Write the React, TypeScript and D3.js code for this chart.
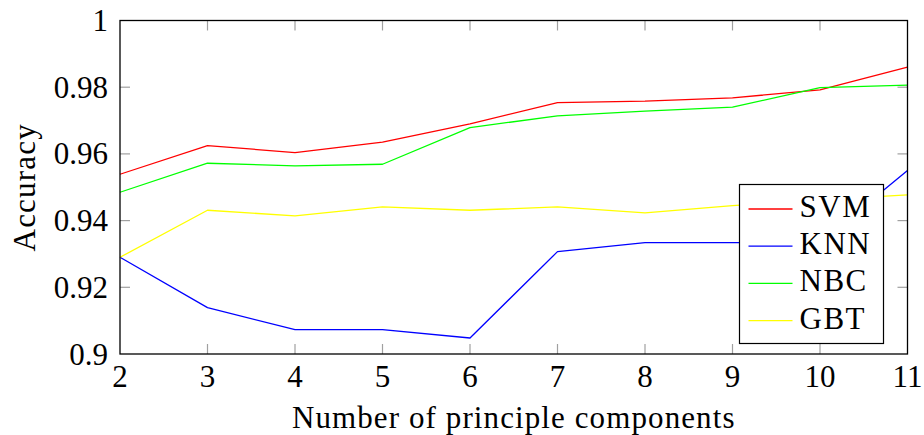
import React, { useEffect, useRef } from "react";
import * as d3 from "d3";

const components = [2, 3, 4, 5, 6, 7, 8, 9, 10, 11];
const svmAcc = [0.9539, 0.9625, 0.9604, 0.9635, 0.969, 0.9754, 0.9758, 0.9768, 0.9792, 0.986];
const knnAcc = [0.929, 0.9139, 0.9073, 0.9073, 0.9048, 0.9307, 0.9334, 0.9334, 0.9334, 0.955];
const nbcAcc = [0.9485, 0.9572, 0.9564, 0.9569, 0.9679, 0.9714, 0.9728, 0.974, 0.9799, 0.9806];
const gbtAcc = [0.929, 0.9431, 0.9414, 0.9441, 0.9431, 0.9441, 0.9423, 0.9445, 0.9462, 0.9477];
const yTicks = [0.9, 0.92, 0.94, 0.96, 0.98, 1];
const seriesNames = ["SVM", "KNN", "NBC", "GBT"];
const seriesColors = ["#ff0000", "#0000ff", "#00ff00", "#ffff00"];

const App = () => {
    const svgRef = useRef<SVGSVGElement>(null);

    useEffect(() => {
        const svg = d3.select(svgRef.current);
        svg.selectAll("*").remove();

        const width = 924;
        const height = 435;
        const margin = { top: 20.5, right: 16.5, bottom: 81, left: 120 };
        const innerW = width - margin.left - margin.right;
        const innerH = height - margin.top - margin.bottom;
        const font = "'Liberation Serif', 'DejaVu Serif', serif";
        const fontSize = 31;

        svg.attr("width", width).attr("height", height);

        const g = svg.append("g").attr("transform", `translate(${margin.left}, ${margin.top})`);

        const xScale = d3.scaleLinear().domain([2, 11]).range([0, innerW]);
        const yScale = d3.scaleLinear().domain([0.9, 1]).range([innerH, 0]);

        // tick marks (inside, mirrored on top and right)
        const tickLen = 10;
        const tickColor = "#a0a0a0";
        components.slice(1, -1).forEach((c) => {
            const x = xScale(c);
            g.append("line").attr("x1", x).attr("x2", x).attr("y1", innerH).attr("y2", innerH - tickLen)
                .attr("stroke", tickColor).attr("stroke-width", 1.2);
            g.append("line").attr("x1", x).attr("x2", x).attr("y1", 0).attr("y2", tickLen)
                .attr("stroke", tickColor).attr("stroke-width", 1.2);
        });
        yTicks.slice(1, -1).forEach((t) => {
            const y = yScale(t);
            g.append("line").attr("x1", 0).attr("x2", tickLen).attr("y1", y).attr("y2", y)
                .attr("stroke", tickColor).attr("stroke-width", 1.2);
            g.append("line").attr("x1", innerW).attr("x2", innerW - tickLen).attr("y1", y).attr("y2", y)
                .attr("stroke", tickColor).attr("stroke-width", 1.2);
        });

        // Lines
        const allSeries = [svmAcc, knnAcc, nbcAcc, gbtAcc];
        const line = d3.line<number>()
            .x((d, i) => xScale(components[i]))
            .y((d) => yScale(d));

        allSeries.forEach((vals, i) => {
            g.append("path")
                .datum(vals)
                .attr("d", line)
                .attr("fill", "none")
                .attr("stroke", seriesColors[i])
                .attr("stroke-width", 1.3)
                .attr("stroke-linejoin", "round");
        });

        // Axis frame
        g.append("rect")
            .attr("x", 0).attr("y", 0)
            .attr("width", innerW).attr("height", innerH)
            .attr("fill", "none")
            .attr("stroke", "black")
            .attr("stroke-width", 1.3);

        // Tick labels
        components.forEach((c) => {
            g.append("text")
                .attr("x", xScale(c))
                .attr("y", innerH + 32.5)
                .attr("text-anchor", "middle")
                .style("font-family", font)
                .style("font-size", `${fontSize}px`)
                .text(c);
        });
        yTicks.forEach((t) => {
            g.append("text")
                .attr("x", -12)
                .attr("y", yScale(t) + 10.5)
                .attr("text-anchor", "end")
                .style("font-family", font)
                .style("font-size", `${fontSize}px`)
                .text(d3.format("")(t));
        });

        // Axis labels
        g.append("text")
            .attr("x", innerW / 2)
            .attr("y", innerH + 74)
            .attr("text-anchor", "middle")
            .style("font-family", font)
            .style("font-size", `${fontSize}px`)
            .style("letter-spacing", "1.1px")
            .text("Number of principle components");

        g.append("text")
            .attr("transform", `translate(${35 - margin.left}, ${innerH / 2}) rotate(-90)`)
            .attr("text-anchor", "middle")
            .style("font-family", font)
            .style("font-size", `${fontSize}px`)
            .style("letter-spacing", "1.2px")
            .text("Accuracy");

        // Legend
        const legend = svg.append("g").attr("transform", "translate(739.5, 184.5)");
        legend.append("rect")
            .attr("width", 144)
            .attr("height", 159)
            .attr("fill", "white")
            .attr("stroke", "black")
            .attr("stroke-width", 1.2);

        seriesNames.forEach((name, i) => {
            const yPos = 24.5 + i * 37.2;
            legend.append("line")
                .attr("x1", 9).attr("x2", 53)
                .attr("y1", yPos).attr("y2", yPos)
                .attr("stroke", seriesColors[i])
                .attr("stroke-width", 1.3);
            legend.append("text")
                .attr("x", 60)
                .attr("y", yPos + 8)
                .style("font-family", font)
                .style("font-size", `${fontSize}px`)
                .style("letter-spacing", "1.5px")
                .text(name);
        });
    }, []);

    return (
        <svg ref={svgRef} style={{ position: "absolute", left: 0, top: 0, background: "white" }}></svg>
    );
};

export default App;
